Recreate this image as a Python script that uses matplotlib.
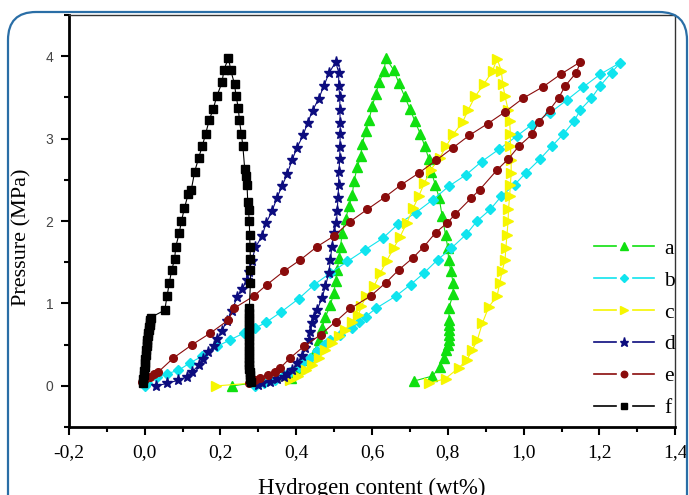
import matplotlib

matplotlib.use("Agg")
import matplotlib.pyplot as plt
from matplotlib.legend_handler import HandlerLine2D
from matplotlib.lines import Line2D
from matplotlib.patches import FancyBboxPatch
from matplotlib.ticker import MultipleLocator

# ---- data (loop: absorption up, desorption down) ----
a_x = [0.230, 0.385, 0.410, 0.433, 0.446, 0.459, 0.468, 0.477, 0.490, 0.499, 0.504, 0.508,
       0.513, 0.517, 0.521, 0.530, 0.539, 0.548, 0.552, 0.561, 0.570, 0.574, 0.583, 0.592,
       0.601, 0.610, 0.618, 0.632, 0.636,
       0.657, 0.671, 0.686, 0.700, 0.713, 0.727, 0.739, 0.750, 0.756, 0.767, 0.777, 0.785,
       0.794, 0.800, 0.802, 0.808, 0.814, 0.814, 0.802, 0.804, 0.804, 0.804, 0.803, 0.802,
       0.800, 0.796, 0.790, 0.779, 0.759, 0.711]
a_y = [0.00, 0.10, 0.22, 0.32, 0.40, 0.56, 0.70, 0.84, 0.98, 1.13, 1.27, 1.41,
       1.55, 1.69, 1.86, 2.02, 2.18, 2.32, 2.48, 2.65, 2.79, 2.93, 3.09, 3.23,
       3.40, 3.54, 3.68, 3.82, 3.98,
       3.83, 3.67, 3.51, 3.36, 3.21, 3.06, 2.91, 2.75, 2.60, 2.44, 2.28, 2.06,
       1.83, 1.67, 1.53, 1.39, 1.25, 1.11, 0.94, 0.80, 0.74, 0.68, 0.62, 0.56,
       0.50, 0.44, 0.34, 0.23, 0.12, 0.06]

b_x = [0.001, 0.005, 0.032, 0.060, 0.089, 0.120, 0.151, 0.191, 0.226, 0.261, 0.291, 0.320,
       0.361, 0.407, 0.448, 0.490, 0.535, 0.581, 0.628, 0.668, 0.715, 0.761, 0.802, 0.848,
       0.889, 0.935, 0.982, 1.022, 1.069, 1.115, 1.156, 1.202, 1.255,
       1.232, 1.202, 1.179, 1.150, 1.133, 1.104, 1.075, 1.043, 1.005, 0.976, 0.941, 0.912,
       0.877, 0.849, 0.809, 0.773, 0.737, 0.702, 0.663, 0.610, 0.583, 0.565, 0.548, 0.516,
       0.490, 0.473, 0.455, 0.437, 0.420, 0.406, 0.384, 0.367, 0.343, 0.315, 0.290]
b_y = [0.00, 0.03, 0.11, 0.15, 0.19, 0.28, 0.36, 0.48, 0.56, 0.64, 0.70, 0.77,
       0.90, 1.06, 1.23, 1.37, 1.51, 1.65, 1.79, 1.96, 2.10, 2.26, 2.42, 2.56,
       2.72, 2.87, 3.03, 3.17, 3.31, 3.47, 3.62, 3.78, 3.92,
       3.80, 3.64, 3.49, 3.35, 3.21, 3.05, 2.91, 2.75, 2.58, 2.44, 2.30, 2.14,
       2.00, 1.84, 1.67, 1.53, 1.37, 1.23, 1.09, 0.94, 0.84, 0.78, 0.70, 0.62,
       0.56, 0.50, 0.42, 0.34, 0.30, 0.23, 0.17, 0.13, 0.07, 0.03, 0.00]

c_x = [0.187, 0.384, 0.405, 0.425, 0.442, 0.460, 0.477, 0.494, 0.512, 0.529, 0.546, 0.564,
       0.572, 0.585, 0.605, 0.622, 0.639, 0.657, 0.674, 0.692, 0.709, 0.723, 0.738, 0.755,
       0.779, 0.796, 0.814, 0.839, 0.854, 0.872, 0.895, 0.918, 0.930,
       0.941, 0.945, 0.951, 0.959, 0.963, 0.965, 0.965, 0.967, 0.967, 0.965, 0.963, 0.960,
       0.959, 0.956, 0.953, 0.951, 0.943, 0.937, 0.930, 0.908, 0.891, 0.878, 0.865, 0.851,
       0.829, 0.794, 0.750]
c_y = [0.00, 0.07, 0.12, 0.19, 0.26, 0.34, 0.44, 0.52, 0.60, 0.68, 0.78, 0.86,
       0.97, 1.09, 1.21, 1.37, 1.52, 1.67, 1.81, 1.98, 2.16, 2.30, 2.46, 2.62,
       2.77, 2.91, 3.05, 3.20, 3.35, 3.51, 3.66, 3.82, 3.97,
       3.82, 3.66, 3.51, 3.35, 3.21, 3.06, 2.91, 2.74, 2.58, 2.44, 2.30, 2.14,
       2.00, 1.83, 1.67, 1.53, 1.39, 1.25, 1.09, 0.96, 0.76, 0.56, 0.44, 0.32,
       0.22, 0.09, 0.03]

d_x = [0.030, 0.058, 0.089, 0.111, 0.125, 0.142, 0.155, 0.168, 0.182, 0.192, 0.204, 0.217,
       0.230, 0.244, 0.257, 0.270, 0.275, 0.283, 0.292, 0.310, 0.320, 0.336, 0.349, 0.363,
       0.376, 0.389, 0.402, 0.418, 0.430, 0.443, 0.459, 0.473, 0.486, 0.504,
       0.512, 0.512, 0.515, 0.515, 0.516, 0.516, 0.515, 0.515, 0.512, 0.512, 0.510, 0.508,
       0.506, 0.499, 0.494, 0.490, 0.486, 0.477, 0.468, 0.455, 0.447, 0.442, 0.437, 0.433,
       0.424, 0.416, 0.402, 0.389, 0.376, 0.367, 0.350, 0.330, 0.310, 0.300]
d_y = [0.00, 0.03, 0.07, 0.11, 0.17, 0.25, 0.33, 0.41, 0.49, 0.57, 0.67, 0.79,
       0.91, 1.08, 1.18, 1.28, 1.38, 1.52, 1.68, 1.82, 1.97, 2.12, 2.28, 2.43,
       2.57, 2.74, 2.89, 3.04, 3.19, 3.34, 3.48, 3.64, 3.79, 3.93,
       3.80, 3.64, 3.50, 3.35, 3.19, 3.05, 2.90, 2.75, 2.59, 2.44, 2.28, 2.12,
       1.98, 1.86, 1.69, 1.53, 1.37, 1.21, 1.07, 0.92, 0.84, 0.76, 0.66, 0.56,
       0.46, 0.36, 0.28, 0.19, 0.15, 0.11, 0.08, 0.05, 0.03, 0.01]

e_x = [-0.008, 0.000, 0.014, 0.025, 0.036, 0.076, 0.125, 0.173, 0.221, 0.235, 0.288, 0.323,
       0.367, 0.411, 0.455, 0.500, 0.541, 0.587, 0.634, 0.677, 0.723, 0.770, 0.814, 0.857,
       0.905, 0.950, 0.999, 1.052, 1.098, 1.150,
       1.139, 1.110, 1.092, 1.069, 1.040, 1.022, 0.988, 0.959, 0.930, 0.884, 0.862, 0.819,
       0.799, 0.768, 0.737, 0.707, 0.671, 0.636, 0.596, 0.543, 0.504, 0.464, 0.420, 0.384,
       0.358, 0.343, 0.325, 0.305, 0.290, 0.274]
e_y = [0.05, 0.08, 0.11, 0.14, 0.17, 0.34, 0.50, 0.64, 0.80, 0.94, 1.09, 1.23,
       1.39, 1.53, 1.69, 1.82, 1.99, 2.14, 2.29, 2.44, 2.58, 2.74, 2.89, 3.04,
       3.18, 3.32, 3.49, 3.63, 3.78, 3.93,
       3.80, 3.64, 3.49, 3.35, 3.20, 3.05, 2.91, 2.75, 2.62, 2.38, 2.28, 2.08,
       1.98, 1.86, 1.69, 1.55, 1.41, 1.25, 1.09, 0.94, 0.78, 0.62, 0.48, 0.34,
       0.22, 0.17, 0.13, 0.10, 0.07, 0.03]

f_x = [-0.005, -0.004, -0.003, -0.002, 0.000, 0.001, 0.002, 0.003, 0.004, 0.005, 0.006, 0.007,
       0.008, 0.010, 0.011, 0.012, 0.013, 0.014, 0.015, 0.016,
       0.053, 0.059, 0.065, 0.071, 0.079, 0.082, 0.091, 0.097, 0.105, 0.115, 0.123, 0.132,
       0.142, 0.152, 0.161, 0.170, 0.181, 0.190, 0.204, 0.209, 0.221,
       0.227, 0.237, 0.241, 0.247, 0.250, 0.255, 0.259, 0.264, 0.268, 0.270, 0.272, 0.274,
       0.276, 0.277, 0.278, 0.279, 0.279, 0.279,
       0.276, 0.276, 0.276, 0.275, 0.275, 0.275, 0.275, 0.275, 0.275, 0.275, 0.275, 0.275,
       0.275, 0.275, 0.276, 0.276, 0.277, 0.277, 0.278, 0.281]
f_y = [0.03, 0.08, 0.13, 0.18, 0.23, 0.28, 0.33, 0.38, 0.43, 0.48, 0.52, 0.56,
       0.60, 0.64, 0.68, 0.71, 0.74, 0.77, 0.80, 0.83,
       0.92, 1.09, 1.25, 1.40, 1.54, 1.69, 1.85, 2.00, 2.16, 2.33, 2.38, 2.60,
       2.76, 2.91, 3.06, 3.22, 3.36, 3.51, 3.68, 3.83, 3.98,
       3.83, 3.66, 3.52, 3.37, 3.22, 3.06, 2.91, 2.63, 2.54, 2.44, 2.23, 2.13,
       2.00, 1.83, 1.68, 1.54, 1.40, 1.25,
       0.94, 0.89, 0.84, 0.79, 0.74, 0.69, 0.64, 0.59, 0.54, 0.49, 0.44, 0.39,
       0.34, 0.29, 0.25, 0.21, 0.17, 0.13, 0.09, 0.05]

labels = ["a", "b", "c", "d", "e", "f"]
x_ticks = [-0.2, 0.0, 0.2, 0.4, 0.6, 0.8, 1.0, 1.2, 1.4]
x_tick_labels = ["-0,2", "0,0", "0,2", "0,4", "0,6", "0,8", "1,0", "1,2", "1,4"]
y_ticks = [0, 1, 2, 3, 4]

series = [
    (a_x, a_y, "#10e010", "^", 7.0),
    (b_x, b_y, "#10e4ee", "D", 5.0),
    (c_x, c_y, "#f6f600", ">", 7.0),
    (d_x, d_y, "#0c0c7e", "*", 8.0),
    (e_x, e_y, "#8a0c0c", "o", 5.5),
    (f_x, f_y, "#000000", "s", 5.5),
]


class GapLineHandler(HandlerLine2D):
    """Origin-style legend key: line, gap, marker, gap, line."""

    def create_artists(self, legend, orig_handle, xdescent, ydescent,
                       width, height, fontsize, trans):
        y = height / 2 - ydescent
        x0 = -xdescent
        seg = width * 0.36
        left = Line2D([x0, x0 + seg], [y, y])
        right = Line2D([x0 + width - seg, x0 + width], [y, y])
        for ln in (left, right):
            self.update_prop(ln, orig_handle, legend)
            ln.set_marker("None")
            ln.set_linewidth(1.2)
            ln.set_transform(trans)
        mk = Line2D([x0 + width / 2], [y])
        self.update_prop(mk, orig_handle, legend)
        mk.set_linestyle("None")
        mk.set_markersize(orig_handle.get_markersize() * 0.85)
        mk.set_transform(trans)
        return [left, right, mk]


plt.rcParams["font.family"] = ["Liberation Serif", "DejaVu Serif"]

fig = plt.figure(figsize=(6.89, 4.95), dpi=100)
ax = fig.add_axes([0.100, 0.137, 0.880, 0.833])

handles = []
for (xs, ys, col, mk, ms), lab in zip(series, labels):
    ln, = ax.plot(xs, ys, color=col, lw=0.8, marker=mk, ms=ms, mec=col, mfc=col,
                  label=lab)
    handles.append(ln)

ax.set_xlim(-0.2, 1.4)
ax.set_ylim(-0.5, 4.5)
ax.set_xticks(x_ticks)
ax.set_xticklabels(x_tick_labels)
ax.xaxis.set_minor_locator(MultipleLocator(0.1))
ax.set_yticks(y_ticks)
ax.yaxis.set_minor_locator(MultipleLocator(0.5))

ax.tick_params(axis="x", which="major", direction="out", length=6, width=1.5,
               labelsize=14, pad=6)
ax.tick_params(axis="y", which="major", direction="out", length=6, width=1.5,
               labelsize=10, labelcolor="#444444", pad=5)
ax.tick_params(which="minor", direction="out", length=3.5, width=1.5)
for lbl in ax.get_yticklabels():
    lbl.set_fontfamily("Liberation Sans")

for side in ("left", "bottom"):
    ax.spines[side].set_linewidth(2.0)
for side in ("top", "right"):
    ax.spines[side].set_linewidth(1.0)
    ax.spines[side].set_color("#333333")

ax.set_xlabel("Hydrogen content (wt%)", fontsize=16.5, labelpad=12)
ax.set_ylabel("Pressure (MPa)", fontsize=16)
ax.yaxis.set_label_coords(-0.062, 0.46)

ax.legend(handles=handles, loc="upper left", bbox_to_anchor=(0.852, 0.478),
          frameon=False, fontsize=15.5, handlelength=2.8, handletextpad=0.45,
          labelspacing=0.55, borderaxespad=0,
          handler_map={Line2D: GapLineHandler()})

frame = FancyBboxPatch((0.08, -0.6), 6.79, 5.43,
                       boxstyle="round,pad=0,rounding_size=0.28",
                       transform=fig.dpi_scale_trans, fill=False,
                       edgecolor="#2a6ea6", lw=1.6, clip_on=False)
fig.add_artist(frame)

fig.savefig("out.png", dpi=100)
